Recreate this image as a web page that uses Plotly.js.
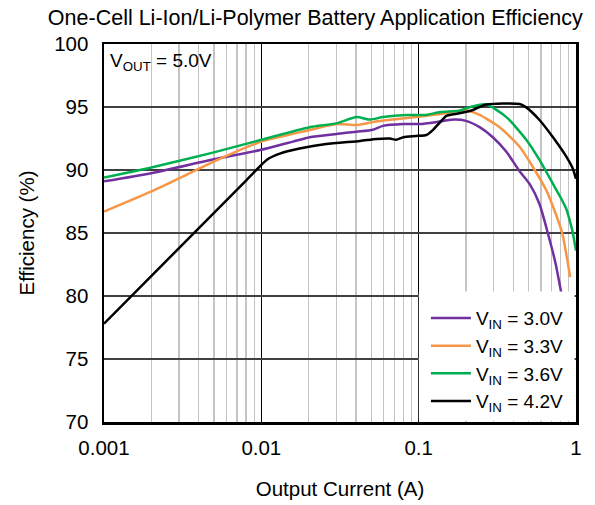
<!DOCTYPE html>
<html>
<head>
<meta charset="utf-8">
<script src="https://cdn.plot.ly/plotly-3.0.1.min.js"></script>
<style>html,body{margin:0;padding:0;background:#fff;}#chart{width:595px;height:505px;}</style>
</head>
<body>
<div id="chart"></div>
<script>
// Output current (A) and efficiency (%)
const x30 = [0.001, 0.002, 0.005, 0.01, 0.0159, 0.0203, 0.030, 0.0403, 0.0512, 0.0593, 0.080, 0.102, 0.129, 0.166, 0.2, 0.244, 0.296, 0.361, 0.438, 0.507, 0.586, 0.662, 0.741, 0.81];
const y30 = [89.1, 89.75, 90.85, 91.6, 92.25, 92.6, 92.86, 93.04, 93.2, 93.5, 93.65, 93.65, 93.8, 94.0, 93.9, 93.4, 92.6, 91.45, 89.9, 88.9, 87.3, 85.0, 82.6, 80.1];

const x33 = [0.001, 0.002, 0.0057, 0.01, 0.0203, 0.030, 0.0403, 0.0512, 0.0687, 0.096, 0.129, 0.182, 0.2, 0.244, 0.327, 0.438, 0.531, 0.647, 0.714, 0.817, 0.918];
const y33 = [86.7, 88.3, 91.0, 92.25, 93.17, 93.65, 93.57, 93.8, 94.0, 94.2, 94.4, 94.7, 94.75, 94.37, 93.4, 91.85, 90.26, 88.4, 87.1, 85.0, 81.5];

const x36 = [0.001, 0.002, 0.005, 0.01, 0.0203, 0.030, 0.0403, 0.0489, 0.0593, 0.0836, 0.112, 0.137, 0.182, 0.2, 0.269, 0.361, 0.483, 0.586, 0.714, 0.80, 0.868, 0.93, 0.955, 1.0];
const y36 = [89.4, 90.2, 91.4, 92.4, 93.4, 93.7, 94.2, 94.0, 94.2, 94.37, 94.37, 94.6, 94.7, 94.9, 95.2, 94.2, 92.4, 90.8, 88.9, 87.8, 86.9, 85.6, 85.0, 83.6];

const x42 = [0.001, 0.00805, 0.01, 0.0108, 0.0131, 0.0175, 0.0258, 0.0424, 0.0538, 0.0656, 0.0719, 0.080, 0.096, 0.112, 0.123, 0.137, 0.150, 0.182, 0.221, 0.269, 0.438, 0.483, 0.586, 0.714, 0.868, 0.955, 1.0];
const y42 = [77.8, 89.2, 90.4, 90.8, 91.3, 91.7, 92.06, 92.3, 92.46, 92.5, 92.4, 92.6, 92.7, 92.78, 93.17, 93.8, 94.3, 94.5, 94.76, 95.2, 95.24, 94.97, 93.97, 92.6, 91.06, 90.1, 89.3];

const seriesNames = ['V<sub>IN</sub> = 3.0V', 'V<sub>IN</sub> = 3.3V', 'V<sub>IN</sub> = 3.6V', 'V<sub>IN</sub> = 4.2V'];
const seriesColors = ['#7030A0', '#F79646', '#00B050', '#000000'];
const xTickVals = [0.001, 0.01, 0.1, 1];
const xTickText = ['0.001', '0.01', '0.1', '1'];
const yTickVals = [70, 75, 80, 85, 90, 95, 100];

const xs = [x30, x33, x36, x42];
const ys = [y30, y33, y36, y42];
const traces = xs.map((x, i) => ({
  x: x, y: ys[i], type: 'scatter', mode: 'lines', name: seriesNames[i],
  line: {color: seriesColors[i], width: 2.5, shape: 'spline', smoothing: 0.6}
}));

const font = 'Arial, "Liberation Sans", sans-serif';
const fs = 20.5;
const layout = {
  width: 595, height: 505,
  margin: {l: 104, r: 19, t: 44, b: 83},
  paper_bgcolor: '#fff', plot_bgcolor: '#fff',
  font: {family: font, size: fs, color: '#000'},
  title: {text: 'One-Cell Li-Ion/Li-Polymer Battery Application Efficiency', font: {family: font, size: 21.5, color: '#000'}, x: 0.53, xanchor: 'center', y: 0.966, yanchor: 'middle'},
  xaxis: {
    type: 'log', range: [-3, 0], tickvals: xTickVals, ticktext: xTickText,
    showgrid: true, gridcolor: '#000', gridwidth: 1.2,
    minor: {dtick: 'D1', showgrid: true, gridcolor: '#c4c4c4', gridwidth: 1.2, ticks: ''},
    showline: true, mirror: true, linecolor: '#000', linewidth: 2.5,
    ticks: '', ticklabelstandoff: 6, tickfont: {family: font, size: fs}, zeroline: false,
    title: {text: 'Output Current (A)', font: {family: font, size: fs}, standoff: 24}
  },
  yaxis: {
    range: [70, 100], tickvals: yTickVals,
    showgrid: true, gridcolor: '#404040', gridwidth: 1.5,
    showline: true, mirror: true, linecolor: '#000', linewidth: 2.5,
    ticks: '', ticklabelstandoff: 9, tickfont: {family: font, size: fs}, zeroline: false,
    title: {text: 'Efficiency (%)', font: {family: font, size: fs}, standoff: 14}
  },
  showlegend: true,
  legend: {x: 0.985, xanchor: 'right', y: 0.005, yanchor: 'bottom', bgcolor: 'rgba(0,0,0,0)', borderwidth: 0,
    font: {family: font, size: 19}, tracegroupgap: 0, itemwidth: 40},
  shapes: [
    {type: 'rect', xref: 'paper', yref: 'paper', x0: 0.003, x1: 0.22, y0: 0.897, y1: 0.997,
      fillcolor: '#fff', line: {width: 0}, layer: 'between'},
    {type: 'rect', xref: 'paper', yref: 'paper', x0: 0.667, x1: 0.997, y0: 0.003, y1: 0.345,
      fillcolor: '#fff', line: {width: 0}, layer: 'above'}
  ],
  annotations: [{xref: 'paper', yref: 'paper', x: 0.008, y: 0.952, xanchor: 'left', yanchor: 'middle',
    text: 'V<sub>OUT</sub> = 5.0V', showarrow: false, font: {family: font, size: 19}}]
};
Plotly.newPlot('chart', traces, layout, {staticPlot: true});
</script>
</body>
</html>
